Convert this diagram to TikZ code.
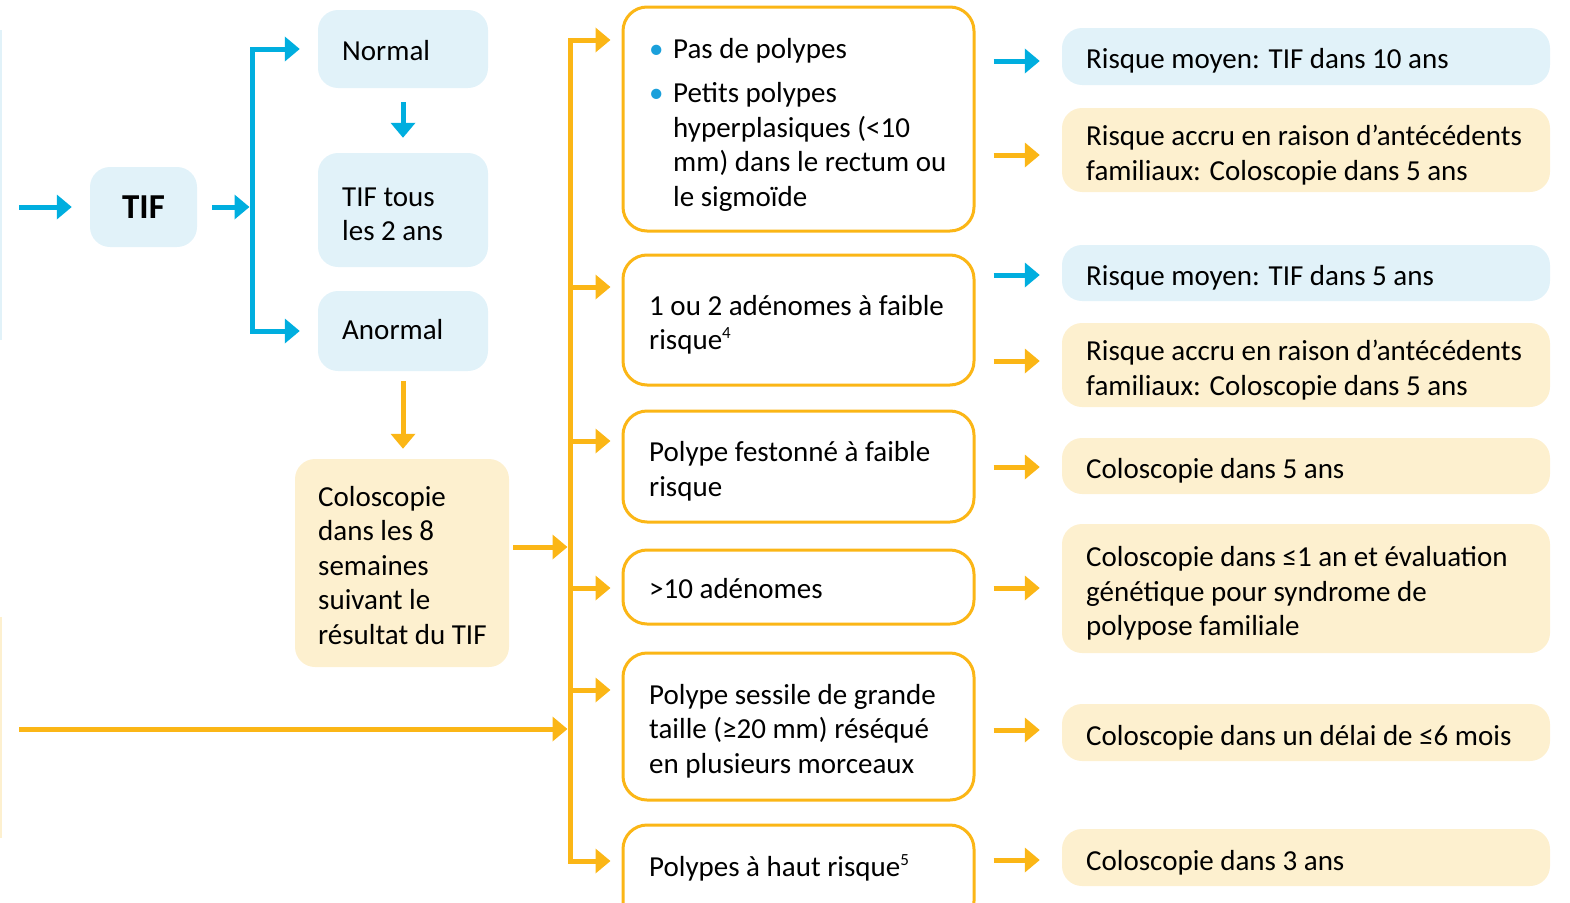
\documentclass[tikz,border=0pt]{standalone}
\usepackage{fontspec}
\setmainfont{Carlito}
\usetikzlibrary{arrows.meta,calc}
\definecolor{cblue}{HTML}{00AEDF}
\definecolor{corange}{HTML}{FBB616}
\definecolor{fblue}{HTML}{E1F2F9}
\definecolor{fyellow}{HTML}{FDF0CF}
\definecolor{bullblue}{HTML}{1BA0DB}
\newcommand{\bul}{\makebox[24pt][l]{\color{bullblue}•}}
\newcommand{\supnum}[1]{\raisebox{11pt}{\fontsize{17}{17}\selectfont #1}}
\begin{document}
\begin{tikzpicture}[x=1pt,y=-1pt,
  bluebox/.style={fill=fblue, rounded corners=20pt, inner sep=0pt},
  yelbox/.style={fill=fyellow, rounded corners=20pt, inner sep=0pt},
  wbox/.style={draw=corange, line width=3pt, fill=white, rounded corners=24pt, inner sep=0pt},
  txt/.style={font=\fontsize{29}{34.5}\selectfont, align=left, inner sep=0pt, anchor=west, yshift=-3.5pt},
  arr/.style={draw=#1, line width=5pt, -{Triangle[length=15pt,width=24pt]}},
  arr2/.style={draw=#1, line width=5pt, {Triangle[length=15pt,width=24pt]}-{Triangle[length=15pt,width=24pt]}}
]
\useasboundingbox (0,0) rectangle (1570,902);
\clip (0,0) rectangle (1570,902);

% cut-off slivers at left edge
\fill[fblue] (-20,30) rectangle (1.5,340);
\fill[fyellow] (-20,617) rectangle (1.5,838);

% left column
\node[bluebox, minimum width=107pt, minimum height=80pt] (tif) at (143.5,207)
  {\fontsize{35}{40}\selectfont\bfseries TIF};
\node[bluebox, minimum width=170pt, minimum height=78pt] (normal) at (403,49) {};
\node[bluebox, minimum width=170pt, minimum height=114pt] (tous) at (403,210) {};
\node[bluebox, minimum width=170pt, minimum height=80pt] (anormal) at (403,331) {};
\node[yelbox, minimum width=214pt, minimum height=208pt] (colo) at (402,563) {};

\node[txt] (normalt) at (342,50) {\strut Normal\strut};
\node[txt] (toust) at (342,213) {\strut TIF tous\\les 2 ans\strut};
\node[txt] (anormalt) at (342,329) {\strut Anormal\strut};
\node[txt] (colot) at (318,565) {\strut Coloscopie\\dans les 8\\semaines\\suivant le\\résultat du TIF\strut};

% middle column
\node[wbox, minimum width=351pt, minimum height=224pt] (m1) at (798.5,119) {};
\node[wbox, minimum width=351pt, minimum height=130pt] (m2) at (798.5,320) {};
\node[wbox, minimum width=351pt, minimum height=111pt] (m3) at (798.5,466.5) {};
\node[wbox, minimum width=351pt, minimum height=74pt] (m4) at (798.5,587) {};
\node[wbox, minimum width=351pt, minimum height=147pt] (m5) at (798.5,726.5) {};
\node[wbox, minimum width=351pt, minimum height=100pt] (m6) at (798.5,875) {};

\node[txt] (m1t) at (649,122) {\strut\bul Pas de polypes\\[9.5pt]\bul Petits polypes\\\hspace*{24pt}hyperplasiques (<10\\\hspace*{24pt}mm) dans le rectum ou\\\hspace*{24pt}le sigmoïde\strut};
\node[txt] (m2t) at (649,322) {\strut 1 ou 2 adénomes à faible\\risque\supnum{4}\strut};
\node[txt] (m3t) at (649,468.5) {\strut Polype festonné à faible\\risque\strut};
\node[txt] (m4t) at (649,588) {\strut >10 adénomes\strut};
\node[txt] (m5t) at (649,728.5) {\strut Polype sessile de grande\\taille (≥20 mm) réséqué\\en plusieurs morceaux\strut};
\node[txt] (m6t) at (649,866) {\strut Polypes à haut risque\supnum{5}\strut};

% right column
\node[bluebox, minimum width=488pt, minimum height=57pt] (r1) at (1306,56.5) {};
\node[yelbox, minimum width=488pt, minimum height=84pt] (r2) at (1306,150) {};
\node[bluebox, minimum width=488pt, minimum height=56pt] (r3) at (1306,273) {};
\node[yelbox, minimum width=488pt, minimum height=84pt] (r4) at (1306,365) {};
\node[yelbox, minimum width=488pt, minimum height=56pt] (r5) at (1306,466) {};
\node[yelbox, minimum width=488pt, minimum height=129pt] (r6) at (1306,588.5) {};
\node[yelbox, minimum width=488pt, minimum height=57pt] (r7) at (1306,732.5) {};
\node[yelbox, minimum width=488pt, minimum height=57pt] (r8) at (1306,857.5) {};

\node[txt] (r1t) at (1086,58) {\strut Risque moyen: TIF dans 10 ans\strut};
\node[txt] (r2t) at (1086,152.5) {\strut Risque accru en raison d’antécédents\\familiaux: Coloscopie dans 5 ans\strut};
\node[txt] (r3t) at (1086,275) {\strut Risque moyen: TIF dans 5 ans\strut};
\node[txt] (r4t) at (1086,367.5) {\strut Risque accru en raison d’antécédents\\familiaux: Coloscopie dans 5 ans\strut};
\node[txt] (r5t) at (1086,468) {\strut Coloscopie dans 5 ans\strut};
\node[txt] (r6t) at (1086,591) {\strut Coloscopie dans ≤1 an et évaluation\\génétique pour syndrome de\\polypose familiale\strut};
\node[txt] (r7t) at (1086,735) {\strut Coloscopie dans un délai de ≤6 mois\strut};
\node[txt] (r8t) at (1086,860) {\strut Coloscopie dans 3 ans\strut};

% blue connectors
\coordinate (tstart) at (19,207);
\coordinate (bt) at (252,49);
\coordinate (bm) at (252,207);
\coordinate (bb) at (252,331);
\draw[arr=cblue, shorten >=18pt] (tstart) -- (tif.west);
\draw[arr=cblue, shorten <=15pt, shorten >=2.5pt] (tif.east) -- (bm);
\draw[arr2=cblue, shorten <=18pt, shorten >=18pt] (normal.west) -- (bt) -- (bb) -- (anormal.west);
\draw[arr=cblue, shorten <=14pt, shorten >=15pt] (normal.south) -- (tous.north);

% orange connectors
\draw[arr=corange, shorten <=10pt, shorten >=10pt] (anormal.south) -- (anormal.south |- colo.north);
\coordinate (o1) at (570,40);
\coordinate (o2) at (570,287);
\coordinate (o3) at (570,441);
\coordinate (o4) at (570,588);
\coordinate (o5) at (570,690);
\coordinate (o6) at (570,861);
\coordinate (oc) at (570,547);
\coordinate (ol) at (570,729);
\coordinate (lstart) at (19,729);
\draw[arr2=corange, shorten <=11pt, shorten >=11pt] (m1.west |- o1) -- (o1) -- (o6) -- (m6.west |- o6);
\foreach \o/\m in {o2/m2, o3/m3, o4/m4, o5/m5}
  \draw[arr=corange, shorten >=11pt] (\o) -- (\m.west |- \o);
\draw[arr=corange, shorten <=4pt, shorten >=2.5pt] (colo.east |- oc) -- (oc);
\draw[arr=corange, shorten >=2.5pt] (lstart) -- (ol);

% right arrows
\foreach \r/\m/\dy/\c in {r1/m1/4.5/cblue, r2/m1/5/corange, r3/m2/2/cblue, r4/m2/-4/corange, r5/m3/1/corange, r6/m4/-0.5/corange, r7/m5/-2.5/corange, r8/m6/2.5/corange}{
  \coordinate (a\r) at ($(\r.west)+(0,\dy)$);
  \draw[arr=\c, shorten <=18pt, shorten >=22pt] (\m.east |- a\r) -- (a\r);
}
\end{tikzpicture}
\end{document}
